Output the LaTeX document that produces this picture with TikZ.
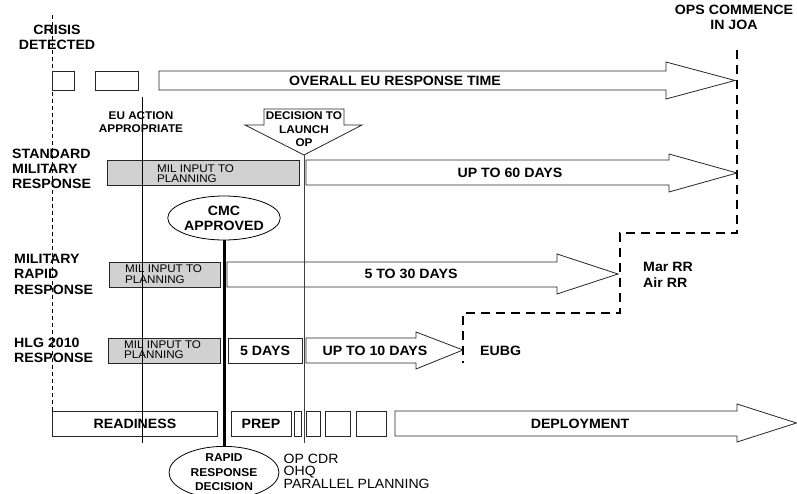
\documentclass[tikz,border=0pt]{standalone}
\usepackage{fontspec}
\setmainfont[FakeStretch=1.05]{Liberation Sans}
\usetikzlibrary{shapes.geometric}
\begin{document}
\begin{tikzpicture}[x=1pt,y=-1pt,
  box/.style={draw=black!85,line width=0.8pt,fill=white},
  gbox/.style={draw=black!85,line width=0.8pt,fill=black!18},
  arr/.style={draw=black!85,line width=0.8pt,fill=white,line join=miter},
  big/.style={font=\fontsize{13.5}{15}\selectfont\bfseries,align=center,inner sep=0pt},
  bigl/.style={font=\fontsize{13.5}{15}\selectfont\bfseries,align=left,inner sep=0pt,anchor=west},
  small/.style={font=\fontsize{11.2}{13}\selectfont\bfseries,align=center,inner sep=0pt},
  mil/.style={font=\fontsize{11.1}{10.5}\selectfont,align=left,inner sep=0pt,anchor=west},
  oval/.style={draw=black,line width=0.8pt,fill=white,ellipse,minimum width=110pt,minimum height=44pt,inner sep=0pt,align=center},
  rr/.style={draw=black,line width=2.6pt,dash pattern=on 9pt off 6pt},
  thinline/.style={draw=black,line width=0.8pt},
]
\useasboundingbox (0,0) rectangle (797,494);

% crisis dashed line
\coordinate (cTop) at (52,15);
\coordinate (cBot) at (52,411);
\draw[line width=0.8pt,dash pattern=on 4pt off 3pt] (cTop) -- (cBot);

\node[big] (crisis) at (57,37.5) {CRISIS\\DETECTED};
\node[big] (ops) at (734,17.5) {OPS COMMENCE\\IN JOA};

% top row
\draw[box] (52,71) rectangle (74,90);
\draw[box] (95,71) rectangle (138,90);
\draw[arr] (159,71) -- (666,71) -- (666,62) -- (735,80.5) -- (666,99) -- (666,90) -- (159,90) -- cycle;
\node[big] (overall) at (395,80.5) {OVERALL EU RESPONSE TIME};

% decision to launch shape
\draw[arr] (264,109) -- (344,109) -- (344,125) -- (362,125) -- (304,155) -- (245,125) -- (264,125) -- cycle;
\node[small,font=\fontsize{11.2}{13.5}\selectfont\bfseries] (dec) at (304,129.5) {DECISION TO\\LAUNCH\\OP};
\coordinate (decTip) at (304,155);

\node[small] (euact) at (141,122.5) {EU ACTION\\APPROPRIATE};

% standard military response
\node[bigl] (std) at (12,169) {STANDARD\\MILITARY\\RESPONSE};
\draw[gbox] (107,160) rectangle (299,185);
\node[mil] (mil1) at (157,173.5) {MIL INPUT TO\\PLANNING};
\draw[arr] (306,160) -- (669,160) -- (669,154) -- (737,173) -- (669,192) -- (669,185) -- (306,185) -- cycle;
\node[big] (d60) at (510,173) {UP TO 60 DAYS};

% CMC approved
\node[oval,font=\fontsize{13.5}{15}\selectfont\bfseries] (cmc) at (224,218) {CMC\\APPROVED};

% military rapid response
\node[bigl,font=\fontsize{13.5}{15.5}\selectfont\bfseries] (mrr) at (14,274) {MILITARY\\RAPID\\RESPONSE};
\draw[gbox] (109,262) rectangle (220,287);
\node[mil] (mil2) at (125,274) {MIL INPUT TO\\PLANNING};
\draw[arr] (227,262) -- (557,262) -- (557,254) -- (618,274) -- (557,294) -- (557,287) -- (227,287) -- cycle;
\node[big] (d30) at (411,274) {5 TO 30 DAYS};
\node[bigl,font=\fontsize{13.5}{16}\selectfont\bfseries] (marrr) at (643,275) {Mar RR\\Air RR};

% HLG 2010
\node[bigl] (hlg) at (14,350) {HLG 2010\\RESPONSE};
\draw[gbox] (108,338) rectangle (220,363);
\node[mil] (mil3) at (124,349.5) {MIL INPUT TO\\PLANNING};
\draw[box] (228,338) rectangle (302,363);
\node[big] (d5) at (265,351) {5 DAYS};
\draw[arr] (306,338) -- (416,338) -- (416,332) -- (463,350) -- (416,369) -- (416,363) -- (306,363) -- cycle;
\node[big] (d10) at (375,350.5) {UP TO 10 DAYS};
\node[bigl] (eubg) at (480,351) {EUBG};

% bottom row
\draw[box] (52,411) rectangle (217,436);
\node[big] (ready) at (135,424) {READINESS};
\draw[box] (231,411) rectangle (291,436);
\node[big] (prep) at (261,424) {PREP};
\draw[box] (294,411) rectangle (301,436);
\draw[box] (306,411) rectangle (320,436);
\draw[box] (325,411) rectangle (350,436);
\draw[box] (356,411) rectangle (386,436);
\draw[arr] (395,411) -- (737,411) -- (737,404) -- (796.5,423) -- (737,442) -- (737,436) -- (395,436) -- cycle;
\node[big] (deploy) at (580,424) {DEPLOYMENT};

% rapid response decision
\node[oval,minimum height=43pt,font=\fontsize{11.4}{14.5}\selectfont\bfseries] (rrd) at (224,472.5) {RAPID\\RESPONSE\\DECISION};
\node[mil,font=\fontsize{13.4}{11.5}\selectfont] (opcdr) at (283.5,471.5) {OP CDR\\OHQ\\PARALLEL PLANNING};

% vertical lines
\coordinate (euTop) at (142,97);
\coordinate (euBot) at (142,443);
\draw[thinline] (euTop) -- (euBot);
\coordinate (decBot) at (304,443);
\draw[draw=black!75,line width=0.8pt] (decTip) -- (decBot);
\draw[line width=3pt] (cmc.south) -- (rrd.north);

% ops commence dashed step line
\coordinate (o1) at (737,50);
\coordinate (o2) at (737,233);
\coordinate (o3) at (620,233);
\coordinate (o4) at (620,313);
\coordinate (o5) at (463,313);
\coordinate (o6) at (463,363);
\draw[rr] (o1) -- (o2) -- (o3) -- (o4) -- (o5) -- (o6);
\end{tikzpicture}
\end{document}
